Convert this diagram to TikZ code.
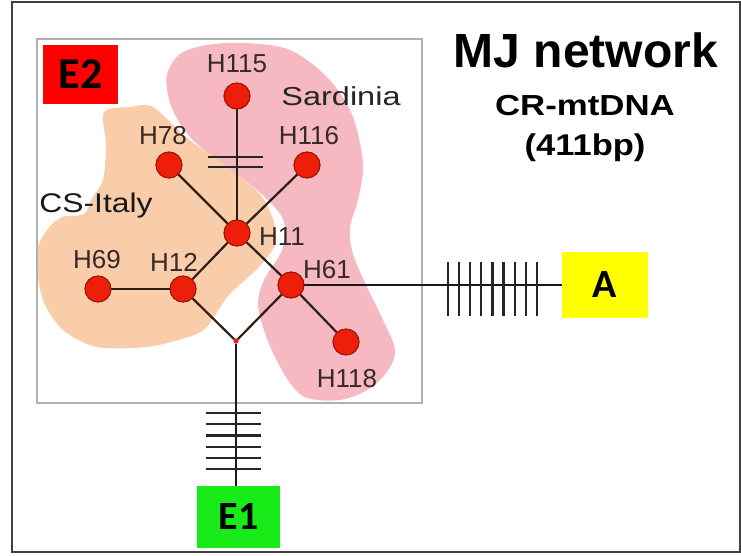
\documentclass[tikz,border=0pt]{standalone}
\usepackage{fontspec}
\usepackage{graphicx}
\setmainfont{Liberation Sans}
\newfontfamily\tagfont{Carlito}
\definecolor{sardpink}{RGB}{247,185,193}
\definecolor{italyorange}{RGB}{249,205,170}
\definecolor{hapred}{RGB}{238,30,10}
\definecolor{hapedge}{RGB}{150,22,0}
\definecolor{linkcol}{RGB}{45,30,22}
\definecolor{labelcol}{RGB}{55,42,38}
\definecolor{framegray}{RGB}{64,64,64}
\definecolor{boxgray}{RGB}{176,176,176}
\definecolor{tagyellow}{RGB}{255,255,0}
\definecolor{taggreen}{RGB}{25,235,25}
\definecolor{tagred}{RGB}{255,0,0}

\begin{document}
\begin{tikzpicture}[x=1pt,y=-1pt,
  hap/.style={circle, fill=hapred, draw=hapedge, line width=0.9pt, minimum size=26pt, inner sep=0pt},
  medvec/.style={circle, fill=hapred, minimum size=5pt, inner sep=0pt},
  link/.style={line width=2.2pt, draw=linkcol},
  hatch/.style={line width=2.2pt, draw=black!85},
  lbl/.style={anchor=base, text=labelcol, inner sep=0pt, font=\fontsize{26}{30}\selectfont},
  title/.style={anchor=base, inner sep=0pt, font=\bfseries},
  tagbox/.style={inner sep=0pt, font=\tagfont\bfseries}
]
\useasboundingbox (0,0) rectangle (741,555);

% outer frame
\draw[framegray, line width=2pt] (12,1.5) rectangle (740,552);

% population areas
\fill[sardpink] plot[smooth cycle, tension=0.55] coordinates {
  (167,74) (180,54) (207,45) (245,43) (290,50) (327,77) (350,110) (360,143)
  (363,170) (358,200) (350,228) (353,254) (367,287) (383,320) (395,350)
  (387,372) (367,390) (340,400) (307,398) (290,383) (273,353) (263,327)
  (258,303) (264,280) (282,250) (284,222) (268,200) (242,178) (213,157)
  (190,137) (175,115) (168,95)};
\fill[italyorange] plot[smooth cycle, tension=0.5] coordinates {
  (104,112) (130,107) (153,107) (187,138) (220,161) (249,184) (263,198)
  (274,222) (275,245) (258,268) (228,296) (206,328) (185,338) (147,347)
  (97,347) (63,330) (43,300) (36,255) (47,230) (62,217) (84,214)
  (92,198) (103,180) (106,145)};

% inner frame
\draw[boxgray, line width=1.5pt] (37,39) rectangle (422,403);

% haplotypes
\node[hap] (h115) at (237,96) {};
\node[hap] (h78)  at (169,165) {};
\node[hap] (h116) at (307,165) {};
\node[hap] (h11)  at (237,233) {};
\node[hap] (h69)  at (98,289) {};
\node[hap] (h12)  at (183,289) {};
\node[hap] (h61)  at (291,285) {};
\node[hap] (h118) at (346,342) {};
\node[medvec] (mv) at (236,341) {};

% outgroup tags
\node[tagbox, fill=tagred, minimum width=75pt, minimum height=59pt,
      font=\tagfont\bfseries\fontsize{44}{44}\selectfont] (e2) at (80.5,74.5) {E2};
\node[tagbox, fill=taggreen, minimum width=83pt, minimum height=62pt,
      font=\tagfont\bfseries\fontsize{40}{40}\selectfont] (e1) at (238.5,517) {E1};
\node[tagbox, fill=tagyellow, minimum width=86pt, minimum height=66pt,
      font=\tagfont\bfseries\fontsize{40}{40}\selectfont] (a) at (605,285) {A};

% links
\draw[link] (h115) -- (h11);
\draw[link] (h78) -- (h11);
\draw[link] (h116) -- (h11);
\draw[link] (h11) -- (h12);
\draw[link] (h11) -- (h61);
\draw[link] (h69) -- (h12);
\draw[link] (h12) -- (mv);
\draw[link] (h61) -- (mv);
\draw[link] (h61) -- (h118);
\draw[link, draw=black!90] (h61) -- (a.west);
\draw[link, draw=black!90] (mv) -- (mv |- e1.north);

% haplotype circles drawn again above the links
\foreach \n in {h115,h78,h116,h11,h69,h12,h61,h118}
  \node[hap] at (\n) {};
\node[medvec] at (mv) {};

% mutation marks
\draw[hatch] (208,157) -- (263,157);
\draw[hatch] (208,167) -- (263,167);
\foreach \i in {0,...,8}
  \draw[hatch] (448+\i*11.1,262) -- ++(0,54);
\foreach \i in {0,...,5}
  \draw[hatch] (206,413+\i*11.2) -- ++(55,0);

% haplotype labels
\node[lbl] at (237,72)  {H115};
\node[lbl] at (163,144) {H78};
\node[lbl] at (309,144) {H116};
\node[lbl] at (282,245) {H11};
\node[lbl] at (97,268)  {H69};
\node[lbl] at (174,271) {H12};
\node[lbl] at (327,278) {H61};
\node[lbl] at (347,387) {H118};
\node[lbl, text=black!85] at (341,105) {\scalebox{1.25}[1]{Sardinia}};
\node[lbl, text=black!90, font=\fontsize{27}{30}\selectfont] at (96,212) {\scalebox{1.18}[1]{CS-Italy}};

% heading
\node[title, font=\bfseries\fontsize{48}{50}\selectfont] at (586,67) {MJ network};
\node[title, font=\bfseries\fontsize{29}{32}\selectfont] at (585,115) {\scalebox{1.2}[1]{CR-mtDNA}};
\node[title, font=\bfseries\fontsize{30}{32}\selectfont] at (585,155) {\scalebox{1.15}[1]{(411bp)}};
\end{tikzpicture}
\end{document}
